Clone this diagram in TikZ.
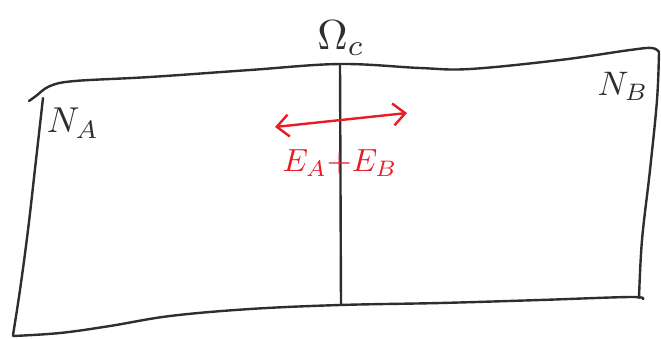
\documentclass[tikz,border=0pt]{standalone}
\usepackage{graphicx}
\usetikzlibrary{arrows.meta}
\definecolor{ink}{RGB}{45,45,50}
\definecolor{redink}{RGB}{232,28,36}
\tikzset{
  pen/.style={draw=ink, line width=2.4pt, line cap=round, line join=round},
  redpen/.style={draw=redink, line width=2.4pt, line cap=round, line join=round},
  lbl/.style={inner sep=0pt, text=ink},
  redlbl/.style={inner sep=0pt, text=redink}
}
\begin{document}
\begin{tikzpicture}[x=1pt,y=-1pt]
\useasboundingbox (0,0) rectangle (661,338);
% outer region boundary
\draw[pen] plot[smooth, tension=0.6] coordinates {(29,101) (36,96) (50,86) (75,81) (150,77) (250,70) (340,64) (420,68) (470,69) (560,60) (630,50) (652,48) (659,52)};
\draw[pen] plot[smooth, tension=0.6] coordinates {(43,98) (36,160) (28,230) (20,290) (13,335)};
\draw[pen] plot[smooth, tension=0.6] coordinates {(659,52) (657,100) (650,170) (642,240) (639,298)};
\draw[pen] plot[smooth, tension=0.6] coordinates {(13,336) (60,333) (110,326) (170,316) (250,309) (340,305) (440,303) (540,300) (630,297) (643,299)};
% interface Omega_c
\coordinate (ctop) at (340,64);
\coordinate (cbot) at (341,305);
\draw[pen] (ctop) -- (cbot);
\node[lbl] (omega) at (341,38) {\scalebox{4.2}{$\Omega_c$}};
\node[lbl] (na) at (73,123) {\scalebox{3.6}{$N_A$}};
\node[lbl] (nb) at (623,86) {\scalebox{3.4}{$N_B$}};
% red energy flux
\coordinate (al) at (275,127);
\coordinate (ar) at (407,113);
\draw[redpen, {Straight Barb[length=12pt,width=22pt]}-{Straight Barb[length=12pt,width=22pt]}] (al) -- (ar);
\node[redlbl] (ee) at (340,163) {\scalebox{3.2}{$E_A{+}E_B$}};
\end{tikzpicture}
\end{document}
